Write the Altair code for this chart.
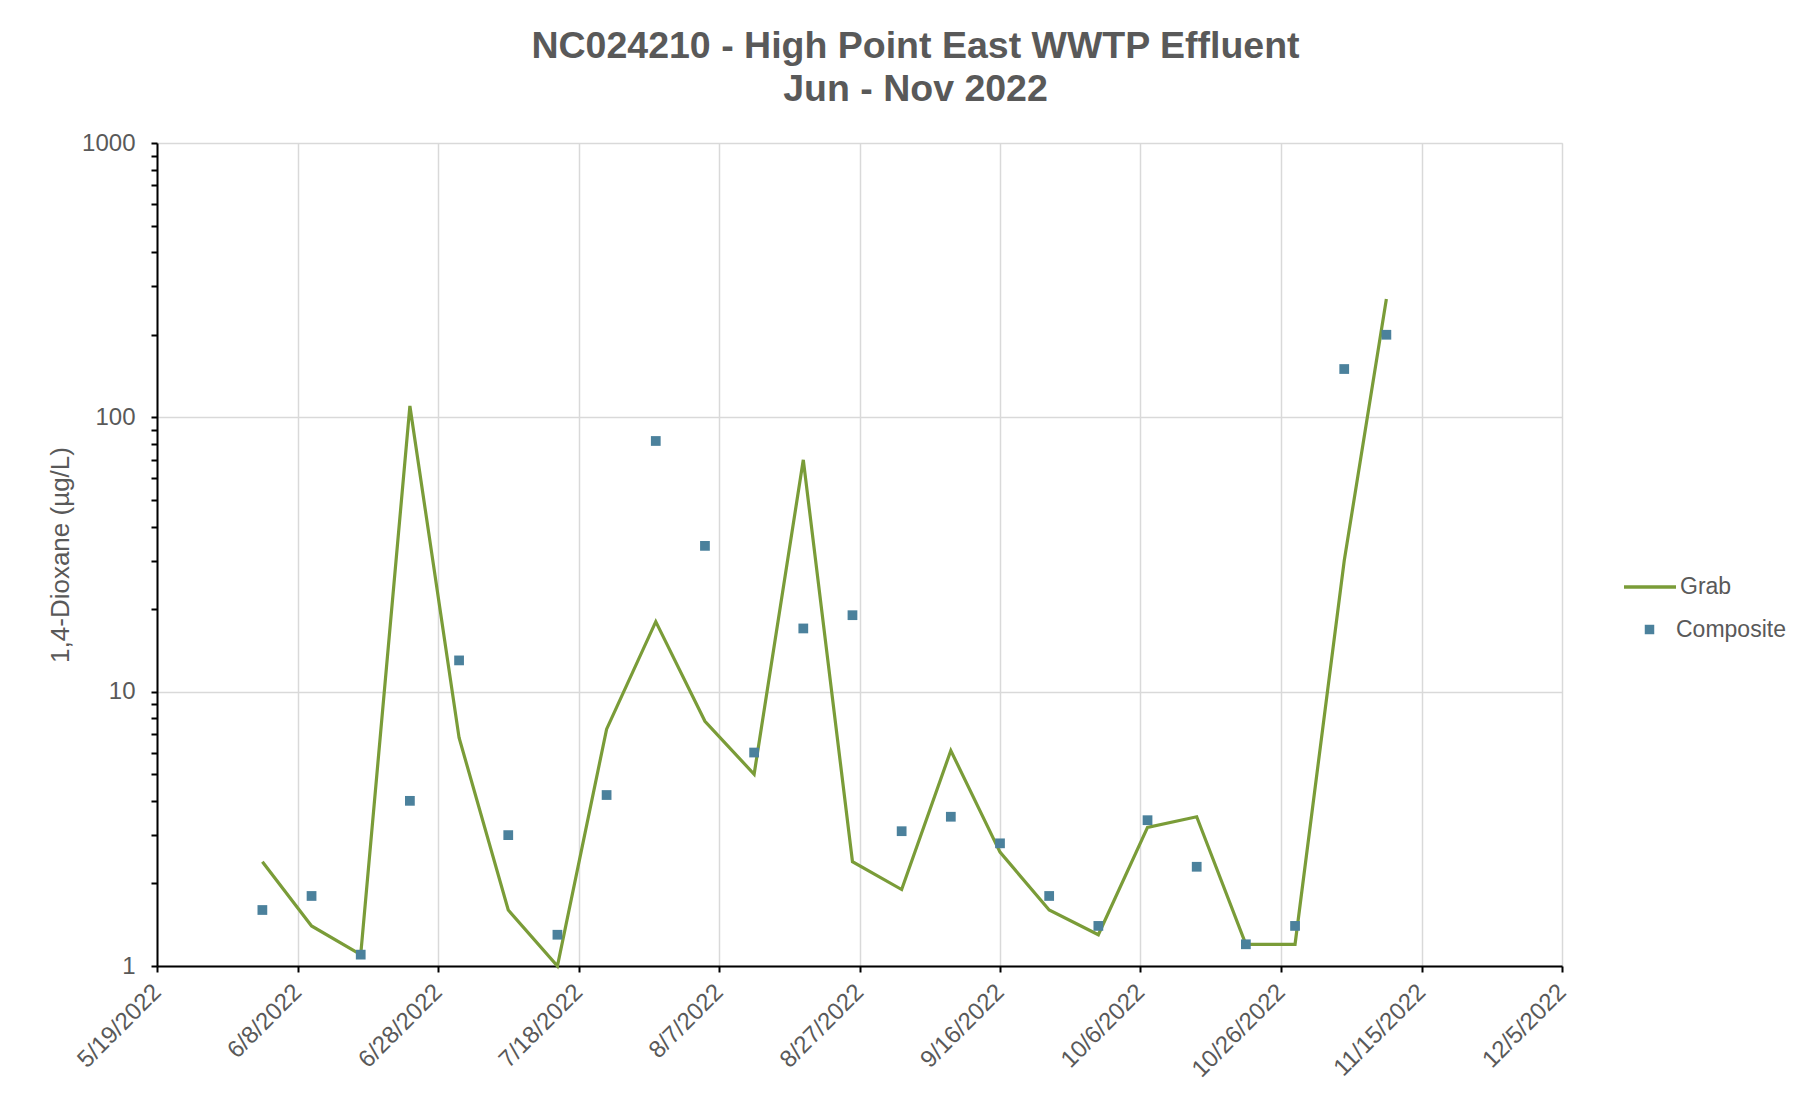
import altair as alt
import pandas as pd

dates = ["2022-06-03", "2022-06-10", "2022-06-17", "2022-06-24", "2022-07-01", "2022-07-08",
         "2022-07-15", "2022-07-22", "2022-07-29", "2022-08-05", "2022-08-12", "2022-08-19",
         "2022-08-26", "2022-09-02", "2022-09-09", "2022-09-16", "2022-09-23", "2022-09-30",
         "2022-10-07", "2022-10-14", "2022-10-21", "2022-10-28", "2022-11-04", "2022-11-10"]
grab = [2.4, 1.4, 1.1, 110, 6.8, 1.6, 1.0, 7.3, 18, 7.8, 5.0, 70,
        2.4, 1.9, 6.1, 2.6, 1.6, 1.3, 3.2, 3.5, 1.2, 1.2, 30, 270]
composite = [1.6, 1.8, 1.1, 4.0, 13, 3.0, 1.3, 4.2, 82, 34, 6.0, 17,
             19, 3.1, 3.5, 2.8, 1.8, 1.4, 3.4, 2.3, 1.2, 1.4, 150, 200]
series_names = ["Grab", "Composite"]
series_colors = ["#7A9C38", "#4B819C"]
x_ticks = [(2022, 5, 19), (2022, 6, 8), (2022, 6, 28), (2022, 7, 18), (2022, 8, 7), (2022, 8, 27),
           (2022, 9, 16), (2022, 10, 6), (2022, 10, 26), (2022, 11, 15), (2022, 12, 5)]
y_ticks = [m * 10 ** e for e in range(3) for m in range(1, 10)] + [1000]

df = pd.DataFrame(
    [{"date": d, "value": v, "series": "Grab"} for d, v in zip(dates, grab)]
    + [{"date": d, "value": v, "series": "Composite"} for d, v in zip(dates, composite)]
)

FONT = "Liberation Sans"
GRAY = "#595959"

tick_dt = [alt.DateTime(year=y, month=m, date=d, utc=True) for (y, m, d) in x_ticks]

x_enc = alt.X(
    "date:T",
    scale=alt.Scale(type="utc", domain=[tick_dt[0], tick_dt[-1]], nice=False),
    axis=alt.Axis(
        values=tick_dt, labelExpr="utcFormat(datum.value, '%-m/%-d/%Y')", title=None,
        labelAngle=315, labelAlign="right", labelBaseline="middle",
        labelFontSize=24, labelFont=FONT, labelColor=GRAY, labelPadding=16,
        labelFlush=False, labelOverlap=False,
        domainColor="black", domainWidth=2, tickColor="black", tickWidth=2, tickSize=6,
        gridColor="#d9d9d9", gridWidth=1.5,
    ),
)

major = "indexof([1,10,100,1000], datum.value) >= 0"
y_enc = alt.Y(
    "value:Q",
    scale=alt.Scale(type="log", domain=[1, 1000], nice=False),
    axis=alt.Axis(
        values=y_ticks, labelExpr=f"{major} ? format(datum.value, 'd') : ''",
        labelFontSize=24, labelFont=FONT, labelColor=GRAY, labelPadding=16,
        labelOverlap=False, labelFlush=False,
        title="1,4-Dioxane (µg/L)", titleFont=FONT, titleFontSize=26, titleFontWeight="normal",
        titleColor=GRAY, titleX=-97, titleBaseline="middle",
        domainColor="black", domainWidth=2, tickColor="black", tickWidth=2, tickSize=6,
        gridColor="#d9d9d9", gridWidth=1.5,
        gridOpacity={"condition": {"test": major, "value": 1}, "value": 0},
    ),
)

grab_color = alt.Color(
    "series:N",
    scale=alt.Scale(domain=series_names[:1], range=series_colors[:1]),
    legend=alt.Legend(
        title=None, orient="none", legendX=1465, legendY=416,
        labelFont=FONT, labelFontSize=23, labelColor=GRAY, labelOffset=2,
        symbolType="stroke", symbolSize=2704, symbolStrokeWidth=3.5,
    ),
)
comp_color = alt.Color(
    "series:N",
    scale=alt.Scale(domain=series_names[1:], range=series_colors[1:]),
    legend=alt.Legend(
        title=None, orient="none", legendX=1481, legendY=475,
        labelFont=FONT, labelFontSize=23, labelColor=GRAY, labelOffset=15,
        symbolType="square", symbolSize=90, symbolStrokeWidth=0, symbolOpacity=1,
    ),
)

base = alt.Chart(df)
line = base.transform_filter(alt.datum.series == "Grab").mark_line(strokeWidth=3.2).encode(
    x=x_enc, y=y_enc, color=grab_color
)
pts = base.transform_filter(alt.datum.series == "Composite").mark_point(
    shape="square", filled=True, size=95, opacity=1
).encode(x=x_enc, y=y_enc, color=comp_color)

chart = alt.layer(line, pts).resolve_scale(color="independent").properties(
    width=1405, height=823,
    autosize=alt.AutoSizeParams(type="none"),
    padding={"left": 149, "top": 135, "right": 228, "bottom": 123},
    title=alt.Title(
        ["NC024210 - High Point East WWTP Effluent", "Jun - Nov 2022"],
        font=FONT, fontSize=37.5, fontWeight="bold", color=GRAY, anchor="middle",
        dx=56, lineHeight=43, offset=23,
    ),
).configure_view(stroke=None).configure_legend(padding=0).configure(background="white")

chart.save("out.html", embed_options={"renderer": "svg", "actions": False})
